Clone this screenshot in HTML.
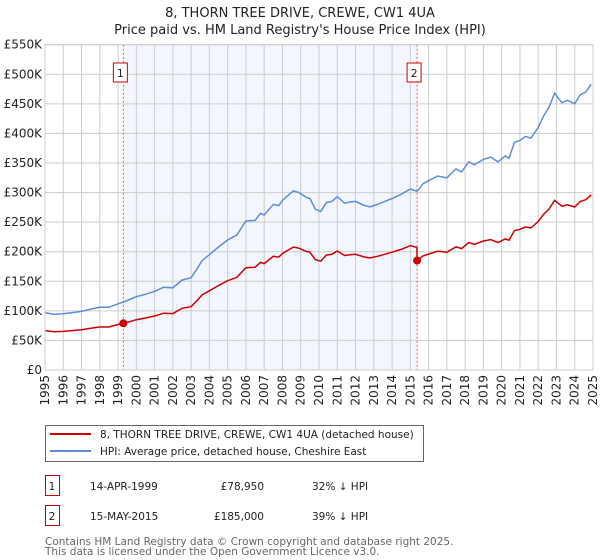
<!DOCTYPE html>
<html><head><meta charset="utf-8"><style>
body{margin:0;width:600px;height:560px;background:#fff;font-family:"DejaVu Sans","Liberation Sans",sans-serif;overflow:hidden}
svg{position:absolute;left:0;top:0}
</style></head><body>
<svg id="c" width="600" height="560"></svg>
<script>
const years=[1995,1996,1997,1998,1999,2000,2001,2002,2003,2004,2005,2006,2007,2008,2009,2010,2011,2012,2013,2014,2015,2016,2017,2018,2019,2020,2021,2022,2023,2024,2025];
const yTicks=[0,50000,100000,150000,200000,250000,300000,350000,400000,450000,500000,550000];
const yTickLabels=["£0","£50K","£100K","£150K","£200K","£250K","£300K","£350K","£400K","£450K","£500K","£550K"];
const hpiDates=[1995.0,1995.5,1996.0,1996.5,1997.0,1997.5,1998.0,1998.5,1999.0,1999.29,1999.7,2000.0,2000.5,2001.0,2001.5,2002.0,2002.5,2003.0,2003.3,2003.6,2004.0,2004.5,2005.0,2005.5,2006.0,2006.5,2006.8,2007.0,2007.5,2007.8,2008.0,2008.6,2008.9,2009.3,2009.5,2009.8,2010.1,2010.4,2010.7,2011.0,2011.4,2011.7,2012.0,2012.5,2012.8,2013.2,2013.6,2014.0,2014.5,2015.0,2015.37,2015.7,2016.0,2016.5,2017.0,2017.5,2017.8,2018.2,2018.5,2019.0,2019.4,2019.8,2020.2,2020.4,2020.7,2021.0,2021.3,2021.6,2022.0,2022.3,2022.6,2022.9,2023.3,2023.6,2024.0,2024.3,2024.6,2024.9];
const hpiValues=[97000,94000,95000,97000,99000,103000,106000,106000,112000,115000,120000,124000,128000,133000,140000,139000,152000,156000,170000,185000,195000,208000,220000,228000,252000,253000,265000,262000,280000,278000,287000,303000,300000,292000,290000,272000,268000,283000,285000,293000,282000,284000,285000,278000,276000,280000,285000,290000,297000,306000,302000,315000,320000,328000,325000,340000,335000,352000,347000,356000,360000,352000,362000,358000,385000,388000,395000,392000,410000,430000,445000,468000,452000,456000,450000,465000,470000,483000];
const saleDates=[1999.29,2015.37];
const salePrices=[78950,185000];
const saleLabels=["1","2"];
const NS="http://www.w3.org/2000/svg";
const svg=document.getElementById('c');
const X0=45,X1=593,Y0=370,Y1=44.7;
const xs=t=>X0+(t-1995)/(2025-1995)*(X1-X0);
const ys=v=>Y0-v/550000*(Y0-Y1);
function mk(tag,a,p){const e=document.createElementNS(NS,tag);for(const k in a)e.setAttribute(k,a[k]);(p||svg).appendChild(e);return e;}
function hpiAt(t){for(let i=0;i<hpiDates.length-1;i++){if(t<=hpiDates[i+1]){const f=(t-hpiDates[i])/(hpiDates[i+1]-hpiDates[i]);return hpiValues[i]+f*(hpiValues[i+1]-hpiValues[i]);}}return hpiValues[hpiValues.length-1];}
let t=mk('text',{x:300,y:17,'text-anchor':'middle','font-size':13,fill:'#222'});t.textContent="8, THORN TREE DRIVE, CREWE, CW1 4UA";

t=mk('text',{x:300,y:34,'text-anchor':'middle','font-size':13,fill:'#222'});t.textContent="Price paid vs. HM Land Registry's House Price Index (HPI)";

let r=mk('rect',{x:xs(saleDates[0]),y:Y1,width:xs(saleDates[1])-xs(saleDates[0]),height:Y0-Y1,fill:'#f3f6fd'});

years.forEach(y=>{const l=mk('line',{x1:xs(y),x2:xs(y),y1:Y1,y2:Y0,stroke:'#ccc','stroke-width':1});

const tx=mk('text',{x:0,y:0,'text-anchor':'end','font-size':12,fill:'#222',transform:'translate('+(xs(y)+4)+','+(Y0+5)+') rotate(-90)'});tx.textContent=y;
});
yTicks.forEach((v,i)=>{const l=mk('line',{x1:X0,x2:X1,y1:ys(v),y2:ys(v),stroke:'#ccc','stroke-width':1});

const tx=mk('text',{x:X0-3,y:ys(v)+4,'text-anchor':'end','font-size':12,fill:'#222'});tx.textContent=yTickLabels[i];
});
saleDates.forEach((d,i)=>{const l=mk('line',{x1:xs(d),x2:xs(d),y1:Y1,y2:Y0,stroke:'#e06060','stroke-width':1,'stroke-dasharray':'2,2'});

const g=mk('g',{});
mk('rect',{x:xs(d)-10,y:63,width:14,height:19,fill:'#fff',stroke:'#c00','stroke-width':1},g);
const tx=mk('text',{x:xs(d)-3,y:77,'text-anchor':'middle','font-size':11,fill:'#222'},g);tx.textContent=saleLabels[i];});
let p=hpiDates.map((d,i)=>(i?'L':'M')+xs(d).toFixed(1)+','+ys(hpiValues[i]).toFixed(1)).join('');
let pl=mk('path',{d:p,fill:'none',stroke:'#5b8ed6','stroke-width':1.5});

function ratioAt(d){let k=0;for(let i=0;i<saleDates.length;i++)if(d>=saleDates[i])k=i;return salePrices[k]/hpiAt(saleDates[k]);}
const pd=[];hpiDates.forEach((d,i)=>{pd.push([d,hpiValues[i]*ratioAt(d)]);});
saleDates.forEach((d,i)=>{if(i>0)pd.push([d-0.01,hpiAt(d)*ratioAt(d-0.02)]);pd.push([d,salePrices[i]]);});
pd.sort((a,b)=>a[0]-b[0]);
p=pd.map((q,i)=>(i?'L':'M')+xs(q[0]).toFixed(1)+','+ys(q[1]).toFixed(1)).join('');
pl=mk('path',{d:p,fill:'none',stroke:'#cc0000','stroke-width':1.5});

saleDates.forEach((d,i)=>{const c=mk('circle',{cx:xs(d),cy:ys(salePrices[i]),r:4,fill:'#cc0000'});
});
r=mk('rect',{x:X0,y:Y1,width:X1-X0,height:Y0-Y1,fill:'none',stroke:'#ccc'});

</script>
<svg width="600" height="560" style="position:absolute;left:0;top:0">
<g>
<rect x="45.5" y="425.5" width="378" height="36" fill="#fff" stroke="#666"/>
<line x1="50" y1="434" x2="91" y2="434" stroke="#cc0000" stroke-width="2"/>
<text x="100" y="438" font-size="10.5" fill="#222">8, THORN TREE DRIVE, CREWE, CW1 4UA (detached house)</text>
<line x1="50" y1="451" x2="91" y2="451" stroke="#5b8ed6" stroke-width="2"/>
<text x="100" y="455" font-size="10.5" fill="#222">HPI: Average price, detached house, Cheshire East</text>
</g>
<g>
<rect x="45.5" y="475.5" width="14" height="20" fill="none" stroke="#c00"/>
<text x="52" y="490" text-anchor="middle" font-size="10.5" fill="#222">1</text>
<text x="90" y="490" font-size="10.5" fill="#222">14-APR-1999</text>
<text x="264" y="490" text-anchor="end" font-size="10.5" fill="#222">£78,950</text>
<text x="312" y="490" font-size="10.5" fill="#222">32% ↓ HPI</text>
</g>
<g>
<rect x="45.5" y="505.5" width="14" height="20" fill="none" stroke="#c00"/>
<text x="52" y="520" text-anchor="middle" font-size="10.5" fill="#222">2</text>
<text x="90" y="520" font-size="10.5" fill="#222">15-MAY-2015</text>
<text x="264" y="520" text-anchor="end" font-size="10.5" fill="#222">£185,000</text>
<text x="312" y="520" font-size="10.5" fill="#222">39% ↓ HPI</text>
</g>
<text x="45" y="545" font-size="10.5" fill="#666">Contains HM Land Registry data © Crown copyright and database right 2025.</text>
<text x="45" y="555" font-size="10.5" fill="#666">This data is licensed under the Open Government Licence v3.0.</text>
</svg>
</body></html>
